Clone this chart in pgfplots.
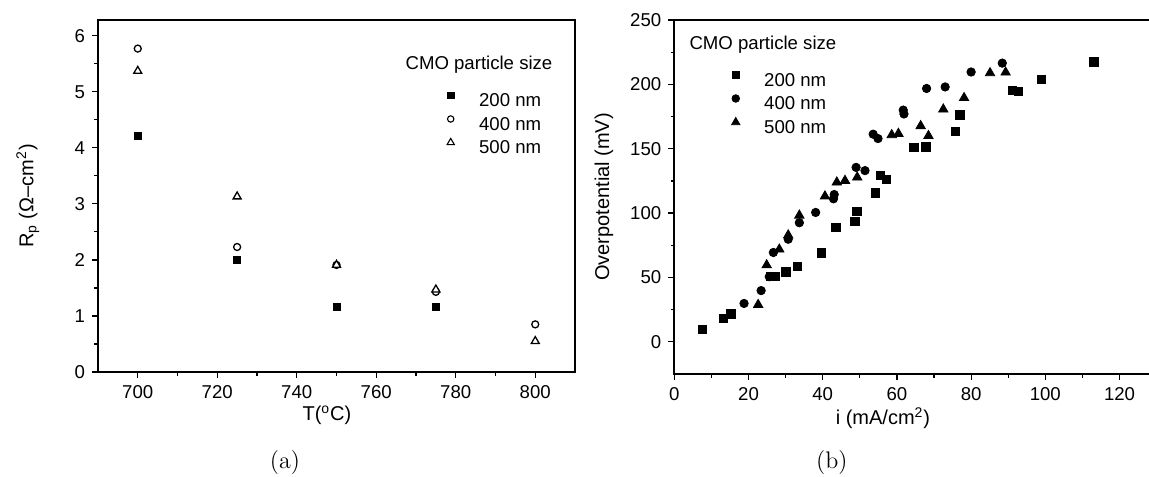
\documentclass[border=0pt]{standalone}
\usepackage{fontspec}
\setsansfont{Liberation Sans}
\usepackage{pgfplots}
\pgfplotsset{compat=1.18}

\begin{document}
\begin{tikzpicture}
\path[use as bounding box] (0pt,0pt) rectangle (574.5pt,-238pt);
\pgfplotsset{
  panel/.style={
    scale only axis,
    font=\sffamily\fontsize{9.3}{11}\selectfont,
    tick label style={font=\sffamily\fontsize{9.3}{11}\selectfont},
    label style={font=\sffamily\fontsize{10}{12}\selectfont},
    /pgf/number format/assume math mode=true,
    tick align=outside, tick pos=left,
    major tick length=3pt, minor tick length=1.8pt,
    axis line style={line width=0.9pt},
    every tick/.style={black, line width=0.6pt},
    minor tick num=1,
    legend cell align=left,
    legend image code/.code={\draw[##1] plot coordinates {(4pt,3.2pt)}; \path (0pt,0pt) (16.5pt,0pt);},
    legend style={draw=none, fill=none, inner sep=0pt, row sep=0.8pt,
      font=\sffamily\fontsize{9.3}{11}\selectfont, nodes={inner sep=1.5pt}},
    y label style={at={(rel axis cs:-0.147,0.5)}, anchor=center},
  }
}
% (a)
\begin{axis}[panel, at={(49pt,-186pt)}, anchor=south west,
  width=238.5pt, height=176pt,
  xmin=690, xmax=810, ymin=0, ymax=6.28,
  xtick={700,720,...,800}, ytick={0,1,...,6},
  xlabel={T(\textsuperscript{o}C)},
  ylabel={R\textsubscript{p} (Ω–cm\textsuperscript{2})},
  x label style={at={(rel axis cs:0.48,-0.122)}, anchor=center},
  legend style={at={(rel axis cs:0.721,0.80)}, anchor=north west},
]
\addplot[forget plot, only marks, mark=square*, mark size=1.75pt] coordinates {
  (700,4.21) (725,2.00) (750,1.16) (775,1.17)};
\addplot[forget plot, only marks, mark=*, mark size=1.75pt, mark options={fill=white, line width=0.65pt}] coordinates {
  (700,5.77) (725,2.23) (750,1.91) (775,1.43) (800,0.85)};
\addplot[forget plot, only marks, mark=triangle*, mark size=2.3pt, mark options={fill=white, line width=0.65pt}] coordinates {
  (700,5.37) (725,3.13) (750,1.91) (775,1.47) (800,0.55)};
\addlegendimage{only marks, mark=square*, mark size=1.6pt}
\addlegendentry{200 nm}
\addlegendimage{only marks, mark=*, mark size=1.6pt, mark options={fill=white, line width=0.55pt}}
\addlegendentry{400 nm}
\addlegendimage{only marks, mark=triangle*, mark size=2.1pt, mark options={fill=white, line width=0.55pt}}
\addlegendentry{500 nm}
\node[anchor=west, inner sep=0pt, font=\sffamily\fontsize{9.3}{11}\selectfont] at (rel axis cs:0.644,0.872) {CMO particle size};
\end{axis}
% (b)
\begin{axis}[panel, at={(337.15pt,-187pt)}, anchor=south west,
  width=239.3pt, height=177pt,
  xmin=0, xmax=129, ymin=-25, ymax=250,
  xtick={0,20,...,120}, ytick={0,50,...,250},
  xlabel={i (mA/cm\textsuperscript{2})},
  ylabel={Overpotential (mV)},
  x label style={at={(rel axis cs:0.436,-0.124)}, anchor=center},
  legend style={at={(rel axis cs:0.110,0.859)}, anchor=north west},
]
\addplot[forget plot, only marks, mark=square*, mark size=2.1pt] coordinates {
  (7.6,9.5) (13.2,18.2) (15.2,21.8) (26.0,50.6) (27.3,50.6) (30.1,54.2)
  (33.2,58.6) (39.7,69.1) (43.6,88.7) (48.7,93.6) (49.2,101.1) (54.2,115.7)
  (55.6,129.1) (57.2,126.0) (64.6,150.9) (67.8,151.5) (75.7,163.3) (77.0,176.2)
  (91.1,195.2) (92.8,194.7) (99.0,203.9) (113.1,217.3)};
\addplot[forget plot, only marks, mark=*, mark size=2.1pt] coordinates {
  (18.8,29.8) (23.4,39.8) (25.6,50.6) (26.7,69.4) (30.7,79.7) (33.7,92.5)
  (38.1,100.5) (42.9,111.1) (43.1,114.4) (49.0,135.5) (51.4,133.0) (53.6,161.3)
  (54.9,157.9) (61.7,180.0) (61.9,177.0) (68.0,196.8) (73.0,198.0) (80.0,209.6)
  (88.4,216.5)};
\addplot[forget plot, only marks, mark=triangle*, mark size=2.7pt] coordinates {
  (22.6,28.8) (24.9,59.6) (28.3,71.8) (30.7,82.8) (33.7,98.2) (40.6,113.1)
  (43.8,123.9) (46.0,125.2) (49.3,127.8) (58.6,160.7) (60.4,161.7) (66.4,167.7)
  (68.5,160.0) (72.5,180.6) (78.1,189.5) (85.1,208.8) (89.3,209.3)};
\addlegendimage{only marks, mark=square*, mark size=1.8pt}
\addlegendentry{200 nm}
\addlegendimage{only marks, mark=*, mark size=1.9pt}
\addlegendentry{400 nm}
\addlegendimage{only marks, mark=triangle*, mark size=2.4pt}
\addlegendentry{500 nm}
\node[anchor=west, inner sep=0pt, font=\sffamily\fontsize{9.3}{11}\selectfont] at (rel axis cs:0.031,0.929) {CMO particle size};
\end{axis}
\node[font=\rmfamily\fontsize{12}{14}\selectfont] at (142.5pt,-231.5pt) {(a)};
\node[font=\rmfamily\fontsize{12}{14}\selectfont] at (415.9pt,-231.5pt) {(b)};
\end{tikzpicture}
\end{document}
